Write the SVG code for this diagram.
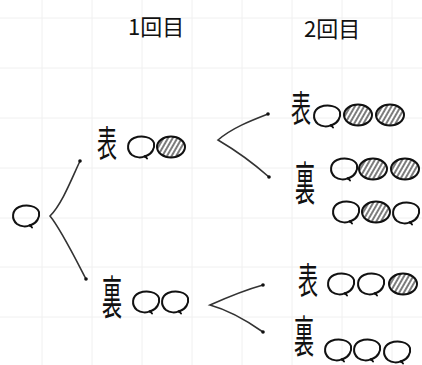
<svg xmlns="http://www.w3.org/2000/svg" xmlns:xlink="http://www.w3.org/1999/xlink" width="422" height="365" viewBox="0 0 422 365">
<style>
.grid line{stroke:#f0f0f0;stroke-width:1}
.lbl{font-family:"Noto Sans CJK JP","Noto Sans",sans-serif;font-size:20px;fill:#111}
.hdr{font-family:"Noto Sans CJK JP","Noto Sans",sans-serif;font-size:22px;fill:#111}
.edge{fill:none;stroke:#333;stroke-width:1.6;stroke-linecap:round;marker-start:url(#dot);marker-end:url(#dot)}
.oc{fill:none;stroke:#111;stroke-width:2;stroke-linecap:round}
.hc{fill:url(#hatch);stroke:#111;stroke-width:2}
</style>
<defs>
<marker id="dot" viewBox="-2 -2 4 4" markerWidth="4" markerHeight="4" markerUnits="userSpaceOnUse"><circle r="1.8" fill="#111"/></marker>
<pattern id="hatch" width="4" height="4" patternUnits="userSpaceOnUse" patternTransform="rotate(30)"><rect width="4" height="4" fill="#fff"/><line x1="1" y1="0" x2="1" y2="4" stroke="#444" stroke-width="1.4"/></pattern>
<g id="o"><path class="oc" d="M5,9 C11,7 14,1 13,-4 C11,-10 1,-12 -7,-9 C-14,-6 -15,3 -9,8 C-5,11 1,11 4,9 L6,11.5"/><circle cx="4.5" cy="9.5" r="1.5" fill="#111"/></g>
<g id="h"><ellipse class="hc" rx="14" ry="10.5"/></g>
</defs>
<rect width="422" height="365" fill="#fff"/>
<g class="grid">
<line x1="42" y1="0" x2="42" y2="365"/><line x1="92" y1="0" x2="92" y2="365"/><line x1="142" y1="0" x2="142" y2="365"/><line x1="192" y1="0" x2="192" y2="365"/><line x1="242" y1="0" x2="242" y2="365"/><line x1="292" y1="0" x2="292" y2="365"/><line x1="342" y1="0" x2="342" y2="365"/><line x1="392" y1="0" x2="392" y2="365"/>
<line x1="0" y1="18" x2="422" y2="18"/><line x1="0" y1="68" x2="422" y2="68"/><line x1="0" y1="118" x2="422" y2="118"/><line x1="0" y1="168" x2="422" y2="168"/><line x1="0" y1="218" x2="422" y2="218"/><line x1="0" y1="267" x2="422" y2="267"/><line x1="0" y1="317" x2="422" y2="317"/>
</g>
<g id="headers">
<text class="hdr" x="128" y="35">1回目</text>
<text class="hdr" x="304" y="37">2回目</text>
</g>
<g id="connectors">
<path class="edge" d="M80,161 C72,178 62,204 50,216 C60,228 72,252 86,279"/>
<path class="edge" d="M268,114 C250,121 232,128 218,140 C235,150 252,162 269,177"/>
<path class="edge" d="M263,285 C245,290 228,297 210,305 C228,310 246,320 263,332"/>
</g>
<g id="root"><use xlink:href="#o" x="26" y="216"/></g>
<g id="first-heads">
<text class="lbl" transform="translate(97,157) scale(1,1.8)">表</text>
<use xlink:href="#o" x="141" y="147"/><use xlink:href="#h" x="171" y="147"/>
</g>
<g id="first-tails">
<text class="lbl" transform="translate(102,314) scale(1,2.3)">裏</text>
<use xlink:href="#o" x="146" y="302"/><use xlink:href="#o" x="175" y="302"/>
</g>
<g id="heads-heads">
<text class="lbl" transform="translate(291,122) scale(1,1.8)">表</text>
<use xlink:href="#o" x="327" y="116"/><use xlink:href="#h" x="358" y="115"/><use xlink:href="#h" x="390" y="115"/>
</g>
<g id="heads-tails">
<text class="lbl" transform="translate(295,200) scale(1,2.3)">裏</text>
<use xlink:href="#o" x="344" y="169"/><use xlink:href="#h" x="373" y="169"/><use xlink:href="#h" x="405" y="169"/>
<use xlink:href="#o" x="346" y="212"/><use xlink:href="#h" x="376" y="212"/><use xlink:href="#o" x="406" y="213"/>
</g>
<g id="tails-heads">
<text class="lbl" transform="translate(298,294) scale(1,1.8)">表</text>
<use xlink:href="#o" x="341" y="284"/><use xlink:href="#o" x="371" y="284"/><use xlink:href="#h" x="403" y="284"/>
</g>
<g id="tails-tails">
<text class="lbl" transform="translate(294,353) scale(1,2.2)">裏</text>
<use xlink:href="#o" x="338" y="350"/><use xlink:href="#o" x="367" y="350"/><use xlink:href="#o" x="397" y="352"/>
</g>
</svg>
